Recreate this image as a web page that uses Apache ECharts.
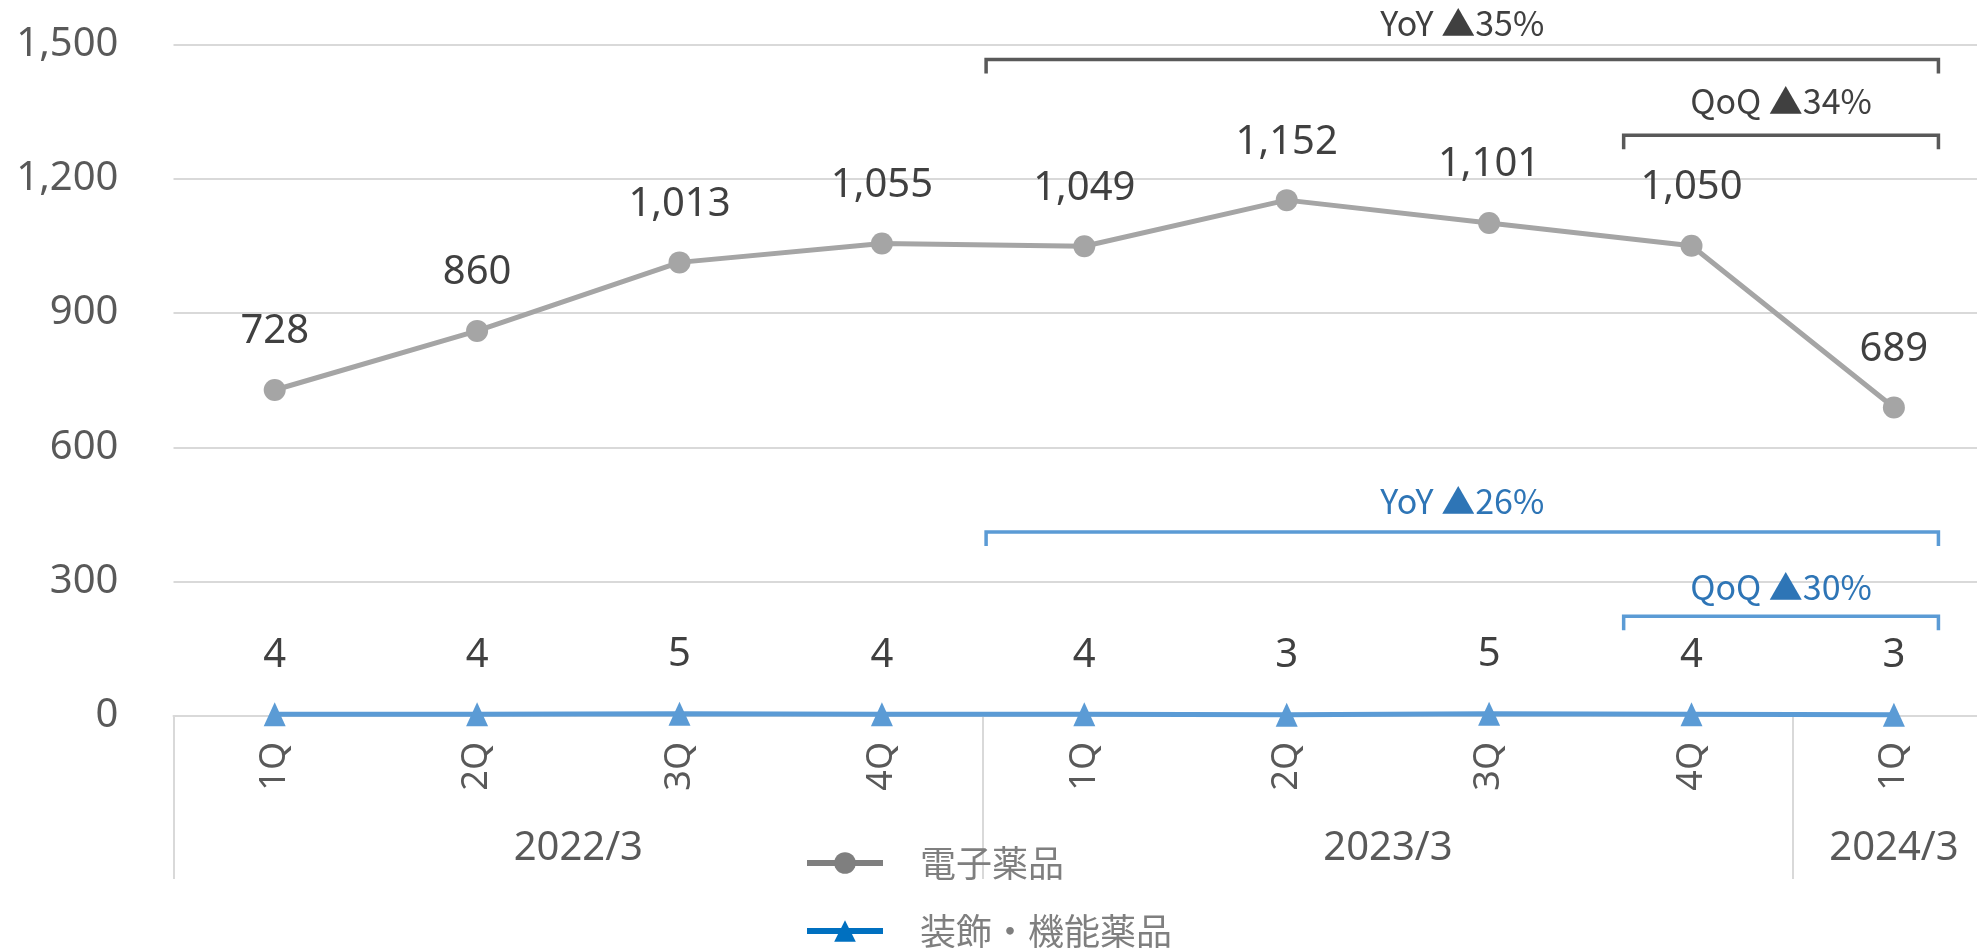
<!DOCTYPE html>
<html>
<head>
<meta charset="utf-8">
<script src="https://cdn.jsdelivr.net/npm/echarts@6/dist/echarts.min.js"></script>
<style>html,body{margin:0;padding:0;background:#fff;overflow:hidden;width:1977px;height:948px;}#c{width:2000px;height:948px;}</style>
</head>
<body>
<div id="c"></div>
<script>
const categories = ['1Q','2Q','3Q','4Q','1Q','2Q','3Q','4Q','1Q'];
const groups = [
  { label: '2022/3', from: 0, to: 3 },
  { label: '2023/3', from: 4, to: 7 },
  { label: '2024/3', from: 8, to: 8 }
];
const seriesNames = ['電子薬品', '装飾・機能薬品'];
const electronic = [728, 860, 1013, 1055, 1049, 1152, 1101, 1050, 689];
const decorative = [4, 4, 5, 4, 4, 3, 5, 4, 3];
const yTicks = { min: 0, max: 1500, interval: 300 };
// annotations: text, bracket from/to (category positions), bracket level and text level in data units
const annotations = [
  { text: 'YoY ▲35%', from: 3.5, to: 8.22, yVal: 1466, textVal: 1548, textColor: '#404040', lineColor: '#595959' },
  { text: 'QoQ ▲34%', from: 6.65, to: 8.22, yVal: 1297, textVal: 1373, textColor: '#404040', lineColor: '#595959' },
  { text: 'YoY ▲26%', from: 3.5, to: 8.22, yVal: 411, textVal: 480, textColor: '#2E75B6', lineColor: '#5B9BD5' },
  { text: 'QoQ ▲30%', from: 6.65, to: 8.22, yVal: 223, textVal: 288, textColor: '#2E75B6', lineColor: '#5B9BD5' }
];

const LATIN = '"Noto Sans", "DejaVu Sans", sans-serif';
const CJK = '"Noto Sans CJK JP", "Noto Sans", sans-serif';
const fmt = v => Number(v).toLocaleString('en-US');

const chart = echarts.init(document.getElementById('c'), null, { renderer: 'canvas' });
chart.setOption({
  animation: false,
  backgroundColor: '#ffffff',
  grid: { left: 173.5, right: 4.9, top: 44.3, bottom: 232 },
  xAxis: {
    type: 'category',
    data: categories,
    boundaryGap: true,
    axisLine: { show: true, lineStyle: { color: '#D9D9D9', width: 2 } },
    axisTick: { show: true, interval: 3, length: 163, lineStyle: { color: '#D9D9D9', width: 2 } },
    axisLabel: { interval: 0, rotate: 90, margin: 26, fontSize: 36, color: '#595959', fontFamily: LATIN }
  },
  yAxis: {
    type: 'value',
    min: yTicks.min, max: yTicks.max, interval: yTicks.interval,
    axisLine: { show: false },
    axisTick: { show: false },
    splitLine: { lineStyle: { color: '#D9D9D9', width: 2 } },
    axisLabel: { margin: 55, fontSize: 40, color: '#595959', fontFamily: LATIN, formatter: v => fmt(v) }
  },
  legend: {
    orient: 'vertical',
    left: 799,
    top: 838,
    height: 200,
    itemWidth: 76,
    itemHeight: 27,
    itemGap: 28,
    textStyle: { fontSize: 36, color: '#7F7F7F', fontFamily: CJK, lineHeight: 40, padding: [0, 0, 0, 32] },
    data: [
      { name: seriesNames[0], itemStyle: { color: '#7F7F7F' }, lineStyle: { color: '#7F7F7F', width: 6 } },
      { name: seriesNames[1], itemStyle: { color: '#0070C0' }, lineStyle: { color: '#0070C0', width: 6 } }
    ]
  },
  series: [
    {
      name: seriesNames[0],
      type: 'line',
      data: electronic,
      symbol: 'circle',
      symbolSize: 22,
      itemStyle: { color: '#A5A5A5' },
      lineStyle: { color: '#A5A5A5', width: 5 },
      label: { show: true, position: 'top', distance: 27, fontSize: 40, color: '#404040', fontFamily: LATIN, formatter: p => fmt(p.value) },
      z: 3
    },
    {
      name: seriesNames[1],
      type: 'line',
      data: decorative,
      symbol: 'triangle',
      symbolSize: [22, 24],
      itemStyle: { color: '#5B9BD5' },
      lineStyle: { color: '#5B9BD5', width: 5 },
      label: { show: true, position: 'top', distance: 27, fontSize: 40, color: '#404040', fontFamily: LATIN, formatter: p => fmt(p.value) },
      z: 4
    }
  ]
});

function xPixExt(pos) {
  const p0 = chart.convertToPixel({ xAxisIndex: 0 }, 0);
  const p1 = chart.convertToPixel({ xAxisIndex: 0 }, 1);
  return p0 + (p1 - p0) * pos;
}
function yPix(v) { return chart.convertToPixel({ yAxisIndex: 0 }, v); }

const graphics = [];
groups.forEach(g => {
  const cx = (xPixExt(g.from) + xPixExt(g.to)) / 2;
  graphics.push({
    type: 'text', x: cx, y: 849,
    style: { text: g.label, fill: '#595959', font: '40px ' + LATIN, textAlign: 'center', textVerticalAlign: 'middle' }
  });
});
annotations.forEach(a => {
  const x1 = xPixExt(a.from) + 3, x2 = xPixExt(a.to);
  const y = yPix(a.yVal);
  graphics.push({
    type: 'polyline',
    shape: { points: [[x1, y + 14], [x1, y], [x2, y], [x2, y + 14]] },
    style: { stroke: a.lineColor, lineWidth: 3.5, fill: null }
  });
  graphics.push({
    type: 'text', x: (x1 + x2) / 2, y: yPix(a.textVal),
    style: { text: a.text, fill: a.textColor, font: '34px ' + CJK, textAlign: 'center', textVerticalAlign: 'middle' }
  });
});
chart.setOption({ graphic: graphics });
</script>
</body>
</html>
